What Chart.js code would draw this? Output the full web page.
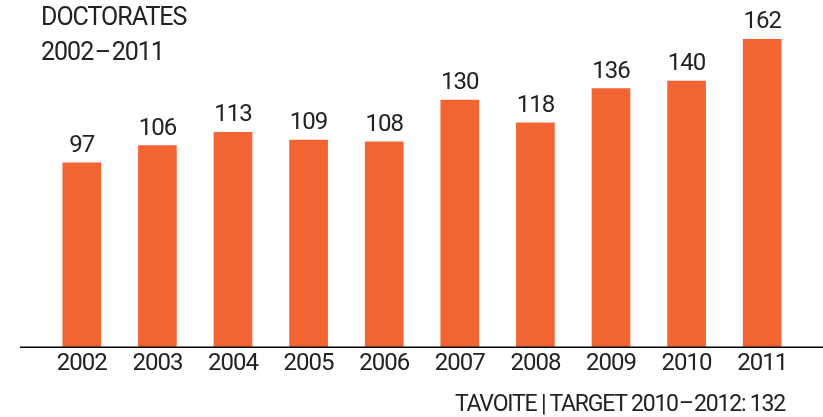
<!DOCTYPE html>
<html>
<head>
<meta charset="utf-8">
<script src="https://cdn.jsdelivr.net/npm/chart.js@4.4.1/dist/chart.umd.min.js"></script>
<style>
  html, body { margin: 0; padding: 0; background: #fff; }
  #wrap { position: relative; width: 823px; height: 417px; overflow: hidden; }
  canvas { position: absolute; left: 0; top: 0; }
  .txt { position: absolute; font-family: Roboto, "Liberation Sans", sans-serif; color: #222; white-space: nowrap; letter-spacing: -1px; }
  #title { left: 41px; top: -1px; font-size: 25px; line-height: 35px; }
  #footer { right: 38px; top: 390px; font-size: 23px; line-height: 28px; letter-spacing: -1.2px; }
</style>
</head>
<body>
<div id="wrap">
  <canvas id="c" width="823" height="417"></canvas>
  <div id="title" class="txt">DOCTORATES<br>2002&#8202;–&#8202;2011</div>
  <div id="footer" class="txt">TAVOITE | TARGET 2010&#8202;–&#8202;2012: 132</div>
</div>
<script>
const categories = ["2002","2003","2004","2005","2006","2007","2008","2009","2010","2011"];
const doctorates = [97, 106, 113, 109, 108, 130, 118, 136, 140, 162];
const yMin = 0;
const yMax = 180;

const barColor = "#F26532";
const textColor = "#222222";
const fontFamily = "Roboto, 'Liberation Sans', sans-serif";

const spacingPlugin = {
  id: 'spacing',
  beforeDraw(chart) { chart.ctx.letterSpacing = '-1px'; }
};

const baselinePlugin = {
  id: 'baseline',
  afterDatasetsDraw(chart) {
    const ctx = chart.ctx;
    const y = chart.scales.y.getPixelForValue(0);
    ctx.save();
    ctx.strokeStyle = '#000';
    ctx.lineWidth = 1.5;
    ctx.beginPath();
    ctx.moveTo(20, y);
    ctx.lineTo(823, y);
    ctx.stroke();
    ctx.restore();
  }
};

const valueLabelPlugin = {
  id: 'valueLabels',
  afterDatasetsDraw(chart) {
    const ctx = chart.ctx;
    const meta = chart.getDatasetMeta(0);
    ctx.save();
    ctx.letterSpacing = '-1px';
    ctx.fillStyle = textColor;
    ctx.font = "24px " + fontFamily;
    ctx.textAlign = 'center';
    ctx.textBaseline = 'alphabetic';
    meta.data.forEach((bar, i) => {
      ctx.fillText(String(chart.data.datasets[0].data[i]), bar.x, bar.y - 11);
    });
    ctx.restore();
  }
};

new Chart(document.getElementById('c'), {
  type: 'bar',
  data: {
    labels: categories,
    datasets: [{
      data: doctorates,
      backgroundColor: barColor,
      borderWidth: 0,
      barThickness: 38
    }]
  },
  options: {
    responsive: false,
    animation: false,
    layout: { padding: { left: 44, right: 23, top: 5, bottom: 37 } },
    plugins: { legend: { display: false }, tooltip: { enabled: false }, title: { display: false } },
    scales: {
      x: {
        grid: { display: false, drawTicks: false },
        border: { display: false },
        ticks: { color: textColor, font: { family: fontFamily, size: 24 }, padding: 2, maxRotation: 0 }
      },
      y: {
        display: false,
        min: yMin,
        max: yMax
      }
    }
  },
  plugins: [spacingPlugin, baselinePlugin, valueLabelPlugin]
});
</script>
</body>
</html>
